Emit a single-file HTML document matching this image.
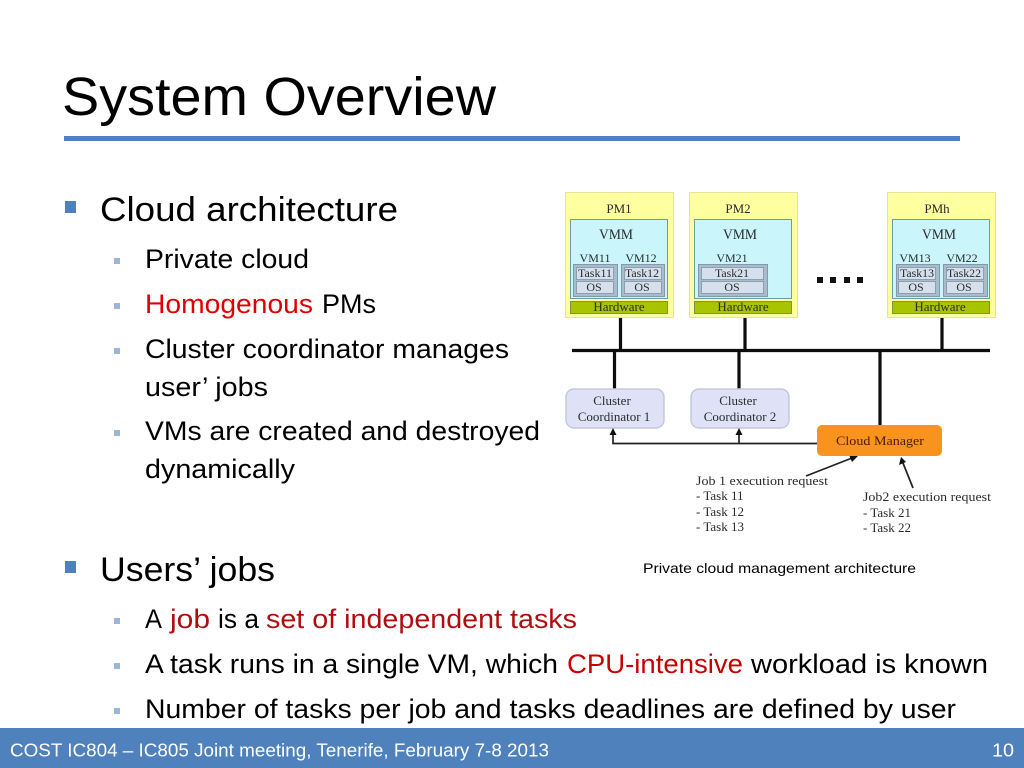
<!DOCTYPE html>
<html>
<head>
<meta charset="utf-8">
<title>System Overview</title>
<style>
html,body{margin:0;padding:0;background:#fff;width:1024px;height:768px;overflow:hidden}
svg{display:block}
.s{font-family:"Liberation Sans",sans-serif}
.t{font-family:"Liberation Serif",serif;fill:#2b2b2b;text-anchor:middle}
.l{font-family:"Liberation Serif",serif;fill:#2b2b2b;font-size:13px}
.b1{font-size:34px;fill:#000}
.b2{font-size:26.500px;fill:#000}
.red{fill:#e00000}
.dk{fill:#b00e0e}
.pm{fill:#feff9e;stroke:#e3e3a0}
.vmm{fill:#c9f5fb;stroke:#6f9ba3}
.hw{fill:#a8c400;stroke:#7f9440}
.vm{fill:#a9bccb;stroke:#8398ad}
.in{fill:#d5e0ec;stroke:#7f94a8;stroke-width:.8}
.cc{fill:#dfe2f7;stroke:#c3c8dd;stroke-width:1.5}
</style>
</head>
<body>
<svg width="1024" height="768" viewBox="0 0 1024 768" xmlns="http://www.w3.org/2000/svg">
<rect width="1024" height="768" fill="#fff"/>

<text class="s" x="62" y="115" font-size="54" fill="#000" textLength="434" lengthAdjust="spacingAndGlyphs">System Overview</text>
<rect x="64" y="136" width="896" height="5" fill="#4f81bd"/>

<rect x="65" y="201" width="11" height="12" fill="#4f81bd"/>
<text class="s b1" x="100" y="221" textLength="298" lengthAdjust="spacingAndGlyphs">Cloud architecture</text>

<g fill="#9ab6d8">
<rect x="114" y="258" width="6" height="6"/>
<rect x="114" y="303" width="6" height="6"/>
<rect x="114" y="348" width="6" height="6"/>
<rect x="114" y="430" width="6" height="6"/>
<rect x="114" y="618" width="6" height="6"/>
<rect x="114" y="663" width="6" height="6"/>
<rect x="114" y="708" width="6" height="6"/>
</g>

<text class="s b2" x="145" y="268" textLength="164" lengthAdjust="spacingAndGlyphs">Private cloud</text>
<text class="s b2 red" x="145" y="313" textLength="168" lengthAdjust="spacingAndGlyphs">Homogenous</text>
<text class="s b2" x="322" y="313" textLength="54" lengthAdjust="spacingAndGlyphs">PMs</text>
<text class="s b2" x="145" y="358" textLength="364" lengthAdjust="spacingAndGlyphs">Cluster coordinator manages</text>
<text class="s b2" x="145" y="396" textLength="123" lengthAdjust="spacingAndGlyphs">user’ jobs</text>
<text class="s b2" x="145" y="440" textLength="395" lengthAdjust="spacingAndGlyphs">VMs are created and destroyed</text>
<text class="s b2" x="145" y="478" textLength="150" lengthAdjust="spacingAndGlyphs">dynamically</text>

<rect x="65" y="561" width="11" height="12" fill="#4f81bd"/>
<text class="s b1" x="100" y="581" textLength="175" lengthAdjust="spacingAndGlyphs">Users’ jobs</text>

<text class="s b2" x="145" y="628" textLength="17" lengthAdjust="spacingAndGlyphs">A</text>
<text class="s b2 dk" x="170" y="628" textLength="40" lengthAdjust="spacingAndGlyphs">job</text>
<text class="s b2" x="218" y="628" textLength="41" lengthAdjust="spacingAndGlyphs">is a</text>
<text class="s b2 dk" x="266" y="628" textLength="311" lengthAdjust="spacingAndGlyphs">set of independent tasks</text>

<text class="s b2" x="145" y="673" textLength="413" lengthAdjust="spacingAndGlyphs">A task runs in a single VM, which</text>
<text class="s b2" x="567" y="673" textLength="176" lengthAdjust="spacingAndGlyphs" style="fill:#c80000">CPU-intensive</text>
<text class="s b2" x="751" y="673" textLength="237" lengthAdjust="spacingAndGlyphs">workload is known</text>

<text class="s b2" x="145" y="718" textLength="811" lengthAdjust="spacingAndGlyphs">Number of tasks per job and tasks deadlines are defined by user</text>

<text class="s" x="643" y="573" font-size="14" fill="#000" textLength="273" lengthAdjust="spacingAndGlyphs">Private cloud management architecture</text>

<g style="filter:blur(.35px)">
<!-- PM1 -->
<rect class="pm" x="565.500" y="192.500" width="108" height="125"/>
<rect class="vmm" x="570.500" y="219.500" width="97" height="79"/>
<rect class="hw" x="570.500" y="301.500" width="97" height="12"/>
<rect class="vm" x="573.500" y="264.500" width="44" height="32"/>
<rect class="vm" x="621.500" y="264.500" width="43" height="32"/>
<rect class="in" x="576.500" y="267.500" width="37" height="12"/>
<rect class="in" x="576.500" y="281.500" width="37" height="12"/>
<rect class="in" x="624.500" y="267.500" width="37" height="12"/>
<rect class="in" x="624.500" y="281.500" width="37" height="12"/>
<text class="t" x="619" y="213" font-size="13">PM1</text>
<text class="t" x="616" y="239" font-size="15" textLength="34" lengthAdjust="spacingAndGlyphs">VMM</text>
<text class="t" x="595" y="262" font-size="12">VM11</text>
<text class="t" x="641" y="262" font-size="12">VM12</text>
<text class="t" x="595" y="277" font-size="12" textLength="34" lengthAdjust="spacingAndGlyphs">Task11</text>
<text class="t" x="642" y="277" font-size="12" textLength="34" lengthAdjust="spacingAndGlyphs">Task12</text>
<text class="t" x="594" y="291" font-size="12">OS</text>
<text class="t" x="642" y="291" font-size="12">OS</text>
<text class="t" x="619" y="311" font-size="13">Hardware</text>

<!-- PM2 -->
<rect class="pm" x="689.500" y="192.500" width="108" height="125"/>
<rect class="vmm" x="694.500" y="219.500" width="97" height="79"/>
<rect class="hw" x="694.500" y="301.500" width="97" height="12"/>
<rect class="vm" x="698.500" y="264.500" width="69" height="32"/>
<rect class="in" x="701.500" y="267.500" width="62" height="12"/>
<rect class="in" x="701.500" y="281.500" width="62" height="12"/>
<text class="t" x="738" y="213" font-size="13">PM2</text>
<text class="t" x="740" y="239" font-size="15" textLength="34" lengthAdjust="spacingAndGlyphs">VMM</text>
<text class="t" x="732" y="262" font-size="12">VM21</text>
<text class="t" x="732" y="277" font-size="12" textLength="34" lengthAdjust="spacingAndGlyphs">Task21</text>
<text class="t" x="732" y="291" font-size="12">OS</text>
<text class="t" x="743" y="311" font-size="13">Hardware</text>

<!-- PMh -->
<rect class="pm" x="887.500" y="192.500" width="108" height="125"/>
<rect class="vmm" x="892.500" y="219.500" width="97" height="79"/>
<rect class="hw" x="892.500" y="301.500" width="97" height="12"/>
<rect class="vm" x="896.500" y="264.500" width="43" height="32"/>
<rect class="vm" x="943.500" y="264.500" width="44" height="32"/>
<rect class="in" x="898.500" y="267.500" width="37" height="12"/>
<rect class="in" x="898.500" y="281.500" width="37" height="12"/>
<rect class="in" x="946.500" y="267.500" width="37" height="12"/>
<rect class="in" x="946.500" y="281.500" width="37" height="12"/>
<text class="t" x="937" y="213" font-size="13">PMh</text>
<text class="t" x="939" y="239" font-size="15" textLength="34" lengthAdjust="spacingAndGlyphs">VMM</text>
<text class="t" x="915" y="262" font-size="12">VM13</text>
<text class="t" x="962" y="262" font-size="12">VM22</text>
<text class="t" x="917" y="277" font-size="12" textLength="34" lengthAdjust="spacingAndGlyphs">Task13</text>
<text class="t" x="964" y="277" font-size="12" textLength="34" lengthAdjust="spacingAndGlyphs">Task22</text>
<text class="t" x="916" y="291" font-size="12">OS</text>
<text class="t" x="964" y="291" font-size="12">OS</text>
<text class="t" x="940" y="311" font-size="13">Hardware</text>

<!-- dots -->
<g fill="#111">
<rect x="817" y="277" width="6" height="6"/>
<rect x="830" y="277" width="6" height="6"/>
<rect x="844" y="277" width="6" height="6"/>
<rect x="857" y="277" width="6" height="6"/>
</g>

<!-- bus -->
<g stroke="#0d0d0d" stroke-width="3.200" fill="none">
<path d="M572 350.500H990"/>
<path d="M620.500 318V350M745 318V350M942 318V350"/>
<path d="M614.500 350V389M739 350V389M880 350V426"/>
</g>

<!-- coordinators -->
<rect class="cc" x="566" y="389" width="98" height="39" rx="8"/>
<rect class="cc" x="691" y="389" width="98" height="39" rx="8"/>
<text class="t" x="612" y="405" font-size="13">Cluster</text>
<text class="t" x="614" y="421" font-size="13">Coordinator 1</text>
<text class="t" x="738" y="405" font-size="13">Cluster</text>
<text class="t" x="740" y="421" font-size="13">Coordinator 2</text>

<!-- connector -->
<g stroke="#222" stroke-width="1.700" fill="none">
<path d="M613 434V443.500H817"/>
<path d="M739 434V443.500"/>
<path d="M806 476L852 458"/>
<path d="M913 488L903 463"/>
</g>
<g fill="#111">
<path d="M613 428L609.500 435H616.500Z"/>
<path d="M739 428L735.500 435H742.500Z"/>
<path d="M858 456L849 455L852 462Z"/>
<path d="M901 457L899 465L906 462Z"/>
</g>

<!-- manager -->
<rect x="817" y="425" width="125" height="31" rx="5" fill="#f8931d"/>
<text class="t" x="880" y="445" font-size="13" style="fill:#4a1d05" textLength="88" lengthAdjust="spacingAndGlyphs">Cloud Manager</text>

<!-- requests -->
<text class="l" x="696" y="485" textLength="132" lengthAdjust="spacingAndGlyphs">Job 1 execution request</text>
<text class="l" x="696" y="500">- Task 11</text>
<text class="l" x="696" y="516">- Task 12</text>
<text class="l" x="696" y="531">- Task 13</text>
<text class="l" x="863" y="501" textLength="128" lengthAdjust="spacingAndGlyphs">Job2 execution request</text>
<text class="l" x="863" y="517">- Task 21</text>
<text class="l" x="863" y="532">- Task 22</text>
</g>

<!-- footer -->
<rect x="0" y="728" width="1024" height="40" fill="#4f81bd"/>
<text class="s" x="10" y="756.500" font-size="18.500" fill="#fff" textLength="539" lengthAdjust="spacingAndGlyphs">COST IC804 – IC805 Joint meeting, Tenerife, February 7-8 2013</text>
<text class="s" x="992" y="756.500" font-size="18.500" fill="#fff" textLength="22" lengthAdjust="spacingAndGlyphs">10</text>
</svg>
</body>
</html>
